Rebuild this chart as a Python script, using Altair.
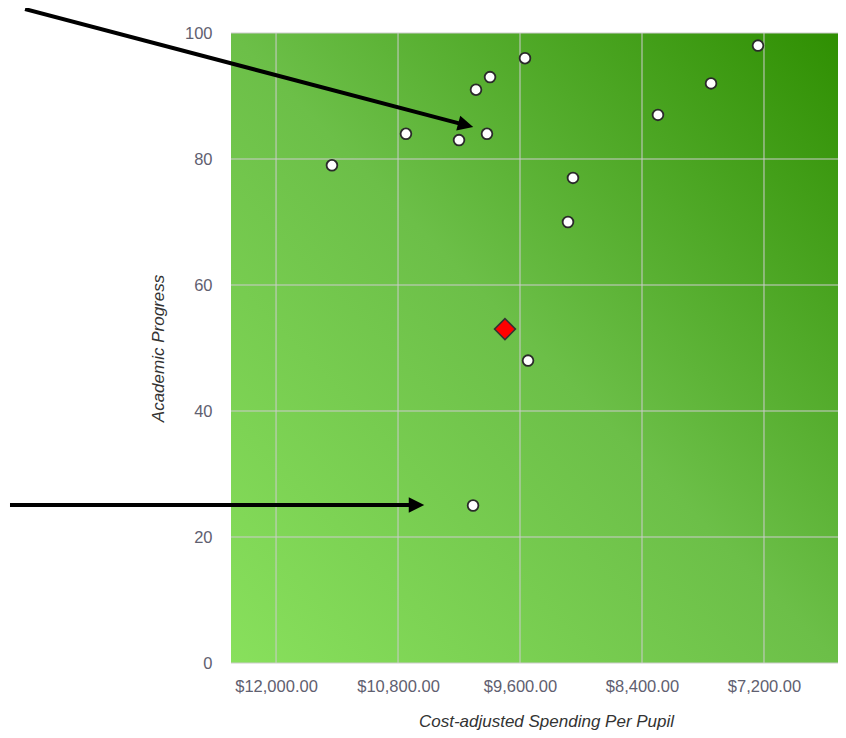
import altair as alt
import pandas as pd

# ---- data ----
spend = [11450, 10722, 10200, 10033, 9895, 9925, 9551, 9079, 9128, 8243, 7721, 7259, 9521, 10062]
progress = [79, 84, 83, 91, 93, 84, 96, 77, 70, 87, 92, 98, 48, 25]
highlight_spend = [9748]
highlight_progress = [53]

x_ticks = [12000, 10800, 9600, 8400, 7200]
y_ticks = [0, 20, 40, 60, 80, 100]

# annotation arrows (data coordinates)
arrow_x_start = [14469, 14617]
arrow_y_start = [103.8, 25.08]
arrow_x_end = [10134, 10618]
arrow_y_end = [85.38, 25.08]
arrow_angle = [14.9, 0]

FONT = "Liberation Sans"
LABEL_COLOR = "#5f6070"
TITLE_COLOR = "#333333"

xs = alt.Scale(domain=[6472, 12443], reverse=True, nice=False, zero=False)
ys = alt.Scale(domain=[0, 100], nice=False, zero=False)

x_axis = alt.Axis(
    values=x_ticks, format="$,.2f", grid=False, domain=False, ticks=False,
    labelPadding=15, labelFontSize=16.5, labelColor=LABEL_COLOR, labelFont=FONT,
    labelFlush=False,
    title="Cost-adjusted Spending Per Pupil", titleFont=FONT, titleFontSize=17,
    titleFontStyle="italic", titleFontWeight="normal", titleColor=TITLE_COLOR,
    titleX=315, titleY=58, titleBaseline="middle", titleAlign="center",
)
y_axis = alt.Axis(
    values=y_ticks, grid=False, domain=False, ticks=False,
    labelPadding=19, labelFontSize=16.5, labelColor=LABEL_COLOR, labelFont=FONT,
    title="Academic Progress", titleFont=FONT, titleFontSize=17,
    titleFontStyle="italic", titleFontWeight="normal", titleColor=TITLE_COLOR,
    titleAngle=270, titleX=-73, titleY=315, titleBaseline="middle", titleAlign="center",
)

X = lambda: alt.X("x:Q", scale=xs, axis=x_axis)
Y = lambda: alt.Y("y:Q", scale=ys, axis=y_axis)

df_pts = pd.DataFrame({"x": spend, "y": progress})
df_hi = pd.DataFrame({"x": highlight_spend, "y": highlight_progress})
df_xt = pd.DataFrame({"x": x_ticks})
df_yt = pd.DataFrame({"y": y_ticks})
df_arrow = pd.DataFrame({
    "x": arrow_x_start, "y": arrow_y_start,
    "x2": arrow_x_end, "y2": arrow_y_end,
})
df_head = pd.DataFrame({"x": arrow_x_end, "y": arrow_y_end, "angle": arrow_angle})

gradient = alt.LinearGradient(
    gradient="linear",
    stops=[
        alt.GradientStop(color="#88e05c", offset=0),
        alt.GradientStop(color="#6cbf48", offset=0.5),
        alt.GradientStop(color="#2f8f02", offset=1),
    ],
    x1=0, y1=1, x2=1, y2=0,
)

bg = alt.Chart(pd.DataFrame({"k": [0]})).mark_rect(color=gradient).encode(
    x=alt.value(0), x2=alt.value("width"), y=alt.value(0), y2=alt.value("height")
)

grid_x = alt.Chart(df_xt).mark_rule(color="#cccccc", strokeWidth=1).encode(x=X())
grid_y = alt.Chart(df_yt).mark_rule(color="#cccccc", strokeWidth=1).encode(y=Y())

arrows = alt.Chart(df_arrow).mark_rule(color="black", strokeWidth=4, strokeCap="butt").encode(
    x=X(), y=Y(), x2="x2:Q", y2="y2:Q"
)
heads = alt.Chart(df_head).mark_point(
    shape="M-1,-1L1,0L-1,1Z", filled=True, color="black", size=240, opacity=1
).encode(x=X(), y=Y(), angle=alt.Angle("angle:Q", scale=None))

points = alt.Chart(df_pts).mark_circle(
    fill="white", stroke="#2a2a2a", strokeWidth=1.8, size=115, opacity=1
).encode(x=X(), y=Y())

diamond = alt.Chart(df_hi).mark_point(
    shape="diamond", filled=True, fill="#ff0000", stroke="#333333",
    strokeWidth=1.5, size=441, opacity=1
).encode(x=X(), y=Y())

chart = alt.layer(bg, grid_x, grid_y, arrows, heads, points, diamond).properties(
    width=607, height=630,
    autosize=alt.AutoSizeParams(type="none"),
    padding={"left": 223, "top": 25, "right": 0, "bottom": 67},
    background="white",
).configure_view(stroke=None)

chart.save("out.html", embed_options={"renderer": "svg", "actions": False})
